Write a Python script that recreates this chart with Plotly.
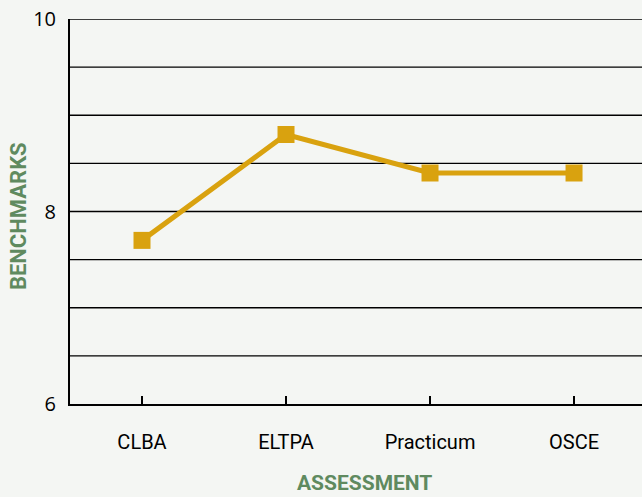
import plotly.graph_objects as go

# Benchmark scores per assessment type
assessments = ["CLBA", "ELTPA", "Practicum", "OSCE"]
benchmarks = [7.7, 8.8, 8.4, 8.4]

y_ticks = [6, 8, 10]

BG = "#f4f6f3"
GOLD = "#d9a20f"
GREEN = "#5f8a5f"
COND = "Liberation Sans Narrow, Roboto, sans-serif"

fig = go.Figure()
fig.add_trace(go.Scatter(
    x=assessments,
    y=benchmarks,
    mode="lines+markers",
    line=dict(color=GOLD, width=5),
    marker=dict(symbol="square", size=17, color=GOLD),
    showlegend=False,
    cliponaxis=False,
))

fig.update_layout(
    width=642,
    height=497,
    margin=dict(l=70, r=0, t=19, b=93),
    paper_bgcolor=BG,
    plot_bgcolor=BG,
    xaxis=dict(
        range=[-0.5, 3.472],
        showgrid=False,
        showline=True,
        linecolor="black",
        linewidth=2,
        ticks="inside",
        ticklen=8,
        tickwidth=2,
        tickcolor="black",
        tickfont=dict(family=COND, size=20, color="black"),
        ticklabelstandoff=19,
        zeroline=False,
    ),
    yaxis=dict(
        range=[6, 10],
        tickvals=y_ticks,
        showgrid=False,
        showline=True,
        linecolor="black",
        linewidth=2,
        ticks="",
        tickfont=dict(family="Open Sans, DejaVu Sans, sans-serif", size=20, color="black"),
        ticklabelstandoff=8,
        zeroline=False,
    ),
)

# Axis titles
fig.add_annotation(
    text="<b>ASSESSMENT</b>", xref="paper", yref="paper",
    x=0.514, y=-0.206, xanchor="center", yanchor="middle", showarrow=False,
    font=dict(family=COND, size=21, color=GREEN),
)
fig.add_annotation(
    text="<b>BENCHMARKS</b>", xref="paper", yref="paper",
    x=-0.091, y=0.488, xanchor="center", yanchor="middle", showarrow=False,
    textangle=-90,
    font=dict(family=COND, size=22, color=GREEN),
)

# Horizontal rules every half point
for v in [6.5, 7, 7.5, 8, 8.5, 9, 9.5, 10]:
    fig.add_hline(y=v, line=dict(color="black", width=1.3), layer="below")

fig.write_html("out.html")
